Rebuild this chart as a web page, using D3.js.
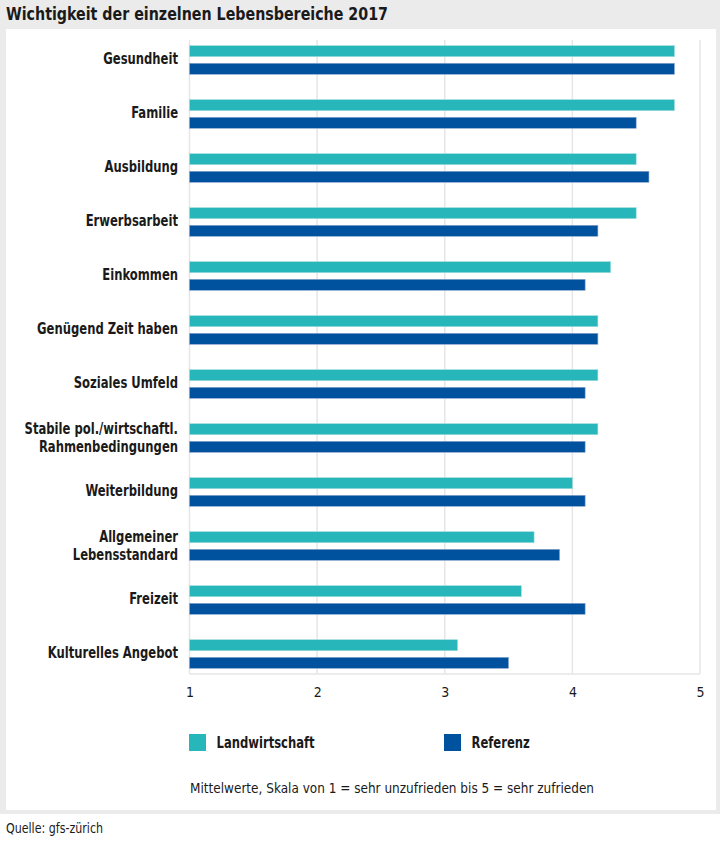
<!DOCTYPE html>
<html>
<head>
<meta charset="utf-8">
<script src="https://cdn.jsdelivr.net/npm/d3@7"></script>
<style>
  html, body { margin: 0; padding: 0; background: #ffffff; }
  svg { display: block; }
  text { font-family: "DejaVu Sans Condensed", "Liberation Sans Narrow", sans-serif; fill: #1a1a1a; }
</style>
</head>
<body>
<svg id="chart" width="720" height="843"></svg>
<script>
const title = "Wichtigkeit der einzelnen Lebensbereiche 2017";
const categories = [
  "Gesundheit", "Familie", "Ausbildung", "Erwerbsarbeit", "Einkommen",
  "Genügend Zeit haben", "Soziales Umfeld",
  "Stabile pol./wirtschaftl.\nRahmenbedingungen", "Weiterbildung",
  "Allgemeiner\nLebensstandard", "Freizeit", "Kulturelles Angebot"
];
const seriesNames = ["Landwirtschaft", "Referenz"];
const landwirtschaft = [4.8, 4.8, 4.5, 4.5, 4.3, 4.2, 4.2, 4.2, 4.0, 3.7, 3.6, 3.1];
const referenz       = [4.8, 4.5, 4.6, 4.2, 4.1, 4.2, 4.1, 4.1, 4.1, 3.9, 4.1, 3.5];
const seriesColors = ["#27b7bb", "#00519e"];
const xTicks = [1, 2, 3, 4, 5];
const note = "Mittelwerte, Skala von 1 = sehr unzufrieden bis 5 = sehr zufrieden";
const source = "Quelle: gfs-zürich";

const values = [landwirtschaft, referenz];
const svg = d3.select("#chart");
const BOLD_SX = 0.86;

function addText(parent, x, y, str, size, bold, sx, anchor) {
  return parent.append("text")
    .attr("transform", `translate(${x},${y}) scale(${sx},1)`)
    .attr("font-size", size)
    .attr("font-weight", bold ? "bold" : "normal")
    .attr("text-anchor", anchor || "start")
    .text(str);
}

// frame
svg.append("rect").attr("x", 0).attr("y", 0).attr("width", 720).attr("height", 814).attr("fill", "#ebebeb");
svg.append("rect").attr("x", 6).attr("y", 29).attr("width", 710).attr("height", 781).attr("fill", "#ffffff");

addText(svg, 6, 19.5, title, 18, true, 0.88);

const x = d3.scaleLinear().domain([1, 5]).range([189.5, 700]);
const y0 = d3.scaleBand().domain(categories).range([40, 674]).paddingInner(0.47).paddingOuter(0.105);
const y1 = d3.scaleBand().domain(seriesNames).range([0, y0.bandwidth()]).paddingInner(0.375);

// grid
const g = svg.append("g");
g.selectAll("line.grid").data(xTicks.slice(1)).join("line")
  .attr("x1", d => x(d)).attr("x2", d => x(d))
  .attr("y1", 40).attr("y2", 674)
  .attr("stroke", "#e6e6e6").attr("stroke-width", 1.5);
g.append("line").attr("x1", x(1)).attr("x2", x(1)).attr("y1", 40).attr("y2", 674)
  .attr("stroke", "#e6e6e6").attr("stroke-width", 1.5);
g.append("line").attr("x1", x(1)).attr("x2", x(5)).attr("y1", 674).attr("y2", 674)
  .attr("stroke", "#e6e6e6").attr("stroke-width", 1.5);

// bars
const groups = g.selectAll("g.cat").data(categories).join("g")
  .attr("transform", d => `translate(0,${y0(d)})`);
groups.selectAll("rect").data((d, i) => seriesNames.map((s, j) => ({ s, j, v: values[j][i] }))).join("rect")
  .attr("x", x(1))
  .attr("y", d => y1(d.s))
  .attr("width", d => x(d.v) - x(1))
  .attr("height", y1.bandwidth())
  .attr("fill", d => seriesColors[d.j])
  .attr("stroke", d => d.j === 0 ? "#9fdcde" : "#8fa9d0")
  .attr("stroke-width", 0.6);

// category labels
groups.each(function(d) {
  const lines = d.split("\n");
  const c = y0.bandwidth() / 2;
  lines.forEach((ln, k) => {
    const base = lines.length === 1 ? c + 4 : c - 4.5 + k * 18;
    addText(d3.select(this), 178, base, ln, 15, true, BOLD_SX, "end");
  });
});

// x axis tick labels
const xAxis = d3.axisBottom(x).tickValues(xTicks).tickSize(0).tickPadding(0).tickFormat(d3.format("d"));
const ax = svg.append("g").attr("transform", "translate(0,687)").call(xAxis);
ax.select(".domain").remove();
ax.selectAll("text").attr("font-size", 14).attr("fill", "#1a1a1a")
  .attr("font-family", "\"DejaVu Sans Condensed\", sans-serif");

// legend
const legendX = [189, 444];
const leg = svg.selectAll("g.leg").data(seriesNames).join("g")
  .attr("transform", (d, i) => `translate(${legendX[i]},734)`);
leg.append("rect").attr("width", 17).attr("height", 17)
  .attr("fill", (d, i) => seriesColors[i]);
leg.each(function(d) { addText(d3.select(this), 27.5, 13.8, d, 15, true, BOLD_SX); });

addText(svg, 190, 793, note, 14, false, 0.96);
addText(svg, 6, 833, source, 14, false, 0.88);
</script>
</body>
</html>
